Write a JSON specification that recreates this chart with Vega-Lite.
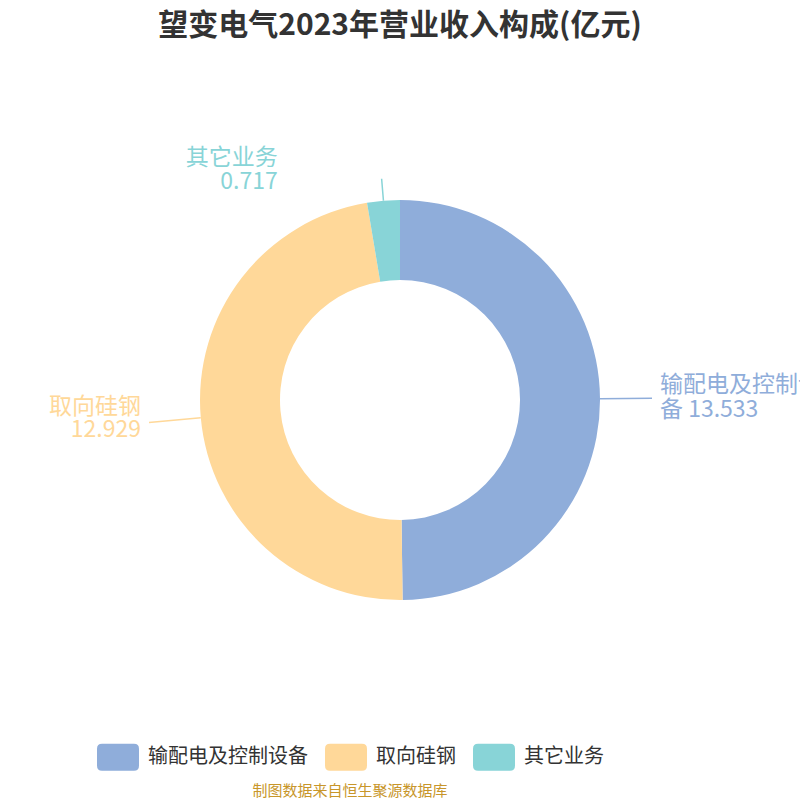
{
  "$schema": "https://vega.github.io/schema/vega-lite/v6.json",
  "width": 800,
  "height": 800,
  "autosize": {"type": "none"},
  "padding": 0,
  "background": "#ffffff",
  "title": {
    "text": "望变电气2023年营业收入构成(亿元)",
    "anchor": "middle",
    "offset": 0,
    "dy": 41,
    "fontSize": 30,
    "fontWeight": "bold",
    "font": "Noto Sans CJK SC",
    "color": "#333333"
  },
  "config": {
    "view": {"stroke": null},
    "font": "Noto Sans CJK SC"
  },
  "data": {
    "values": [
      {"name": "输配电及控制设备", "value": 13.533, "label": "\u00a0输配电及控制设\n备 13.533"},
      {"name": "取向硅钢", "value": 12.929, "label": "取向硅钢\n12.929"},
      {"name": "其它业务", "value": 0.717, "label": "其它业务\n0.717"}
    ]
  },
  "transform": [
    {"window": [{"op": "row_number", "as": "idx"}]},
    {"joinaggregate": [{"op": "sum", "field": "value", "as": "total"}]},
    {"window": [{"op": "sum", "field": "value", "as": "cum"}], "sort": [{"field": "idx"}], "frame": [null, 0]},
    {"calculate": "(datum.cum - datum.value / 2) / datum.total * 2 * PI", "as": "mid"}
  ],
  "layer": [
    {
      "mark": {"type": "arc", "innerRadius": 120, "outerRadius": 200, "stroke": "#ffffff", "strokeWidth": 0},
      "encoding": {
        "theta": {"field": "value", "type": "quantitative", "stack": true},
        "order": {"field": "idx", "type": "quantitative"},
        "color": {
          "field": "name",
          "type": "nominal",
          "scale": {
            "domain": ["输配电及控制设备", "取向硅钢", "其它业务"],
            "range": ["#8FADDA", "#FFD899", "#88D4D7"]
          },
          "legend": {
            "orient": "none",
            "legendX": 97,
            "legendY": 736,
            "direction": "horizontal",
            "padding": 0,
            "symbolType": "M-0.76,-0.643H0.76Q1,-0.643 1,-0.405V0.405Q1,0.643 0.76,0.643H-0.76Q-1,0.643 -1,0.405V-0.405Q-1,-0.643 -0.76,-0.643Z",
            "symbolSize": 1764,
            "symbolStrokeWidth": 0,
            "symbolOpacity": 1,
            "labelFontSize": 20,
            "labelColor": "#333333",
            "labelOffset": 9,
            "labelLimit": 300,
            "columnPadding": 17,
            "title": "制图数据来自恒生聚源数据库",
            "titleOrient": "bottom",
            "titleAnchor": "middle",
            "titleFontSize": 15,
            "titleFontWeight": "normal",
            "titleColor": "#C8962A",
            "titlePadding": 13,
            "titleLimit": 500
          }
        }
      }
    },
    {
      "transform": [{"filter": "datum.idx < 3"}],
      "mark": {"type": "arc", "radius": 252, "radius2": 200, "filled": false, "strokeWidth": 1.5},
      "encoding": {
        "theta": {"field": "mid", "type": "quantitative", "scale": null},
        "theta2": {"field": "mid"},
        "stroke": {
          "field": "name",
          "type": "nominal",
          "scale": {
            "domain": ["输配电及控制设备", "取向硅钢", "其它业务"],
            "range": ["#8FADDA", "#FFD899", "#88D4D7"]
          },
          "legend": null
        }
      }
    },
    {
      "transform": [{"filter": "datum.idx == 3"}],
      "mark": {"type": "arc", "radius": 222, "radius2": 200, "filled": false, "strokeWidth": 1.5},
      "encoding": {
        "theta": {"field": "mid", "type": "quantitative", "scale": null},
        "theta2": {"field": "mid"},
        "stroke": {
          "field": "name",
          "type": "nominal",
          "scale": {
            "domain": ["输配电及控制设备", "取向硅钢", "其它业务"],
            "range": ["#8FADDA", "#FFD899", "#88D4D7"]
          },
          "legend": null
        }
      }
    },
    {
      "transform": [{"filter": "datum.idx == 1"}],
      "mark": {"type": "text", "radius": 260, "align": "left", "baseline": "middle", "fontSize": 23, "lineHeight": 25, "lineBreak": "\n", "dy": -13},
      "encoding": {
        "theta": {"field": "mid", "type": "quantitative", "scale": null},
        "text": {"field": "label"},
        "color": {"field": "name", "type": "nominal", "legend": null}
      }
    },
    {
      "transform": [{"filter": "datum.idx == 2"}],
      "mark": {"type": "text", "radius": 260, "align": "right", "baseline": "middle", "fontSize": 23, "lineHeight": 23, "lineBreak": "\n", "dy": -16},
      "encoding": {
        "theta": {"field": "mid", "type": "quantitative", "scale": null},
        "text": {"field": "label"},
        "color": {"field": "name", "type": "nominal", "legend": null}
      }
    },
    {
      "transform": [{"filter": "datum.idx == 3"}],
      "mark": {"type": "text", "radius": 232, "align": "right", "baseline": "middle", "fontSize": 23, "lineHeight": 24, "lineBreak": "\n", "dx": -103, "dy": -11},
      "encoding": {
        "theta": {"field": "mid", "type": "quantitative", "scale": null},
        "text": {"field": "label"},
        "color": {"field": "name", "type": "nominal", "legend": null}
      }
    }
  ]
}
